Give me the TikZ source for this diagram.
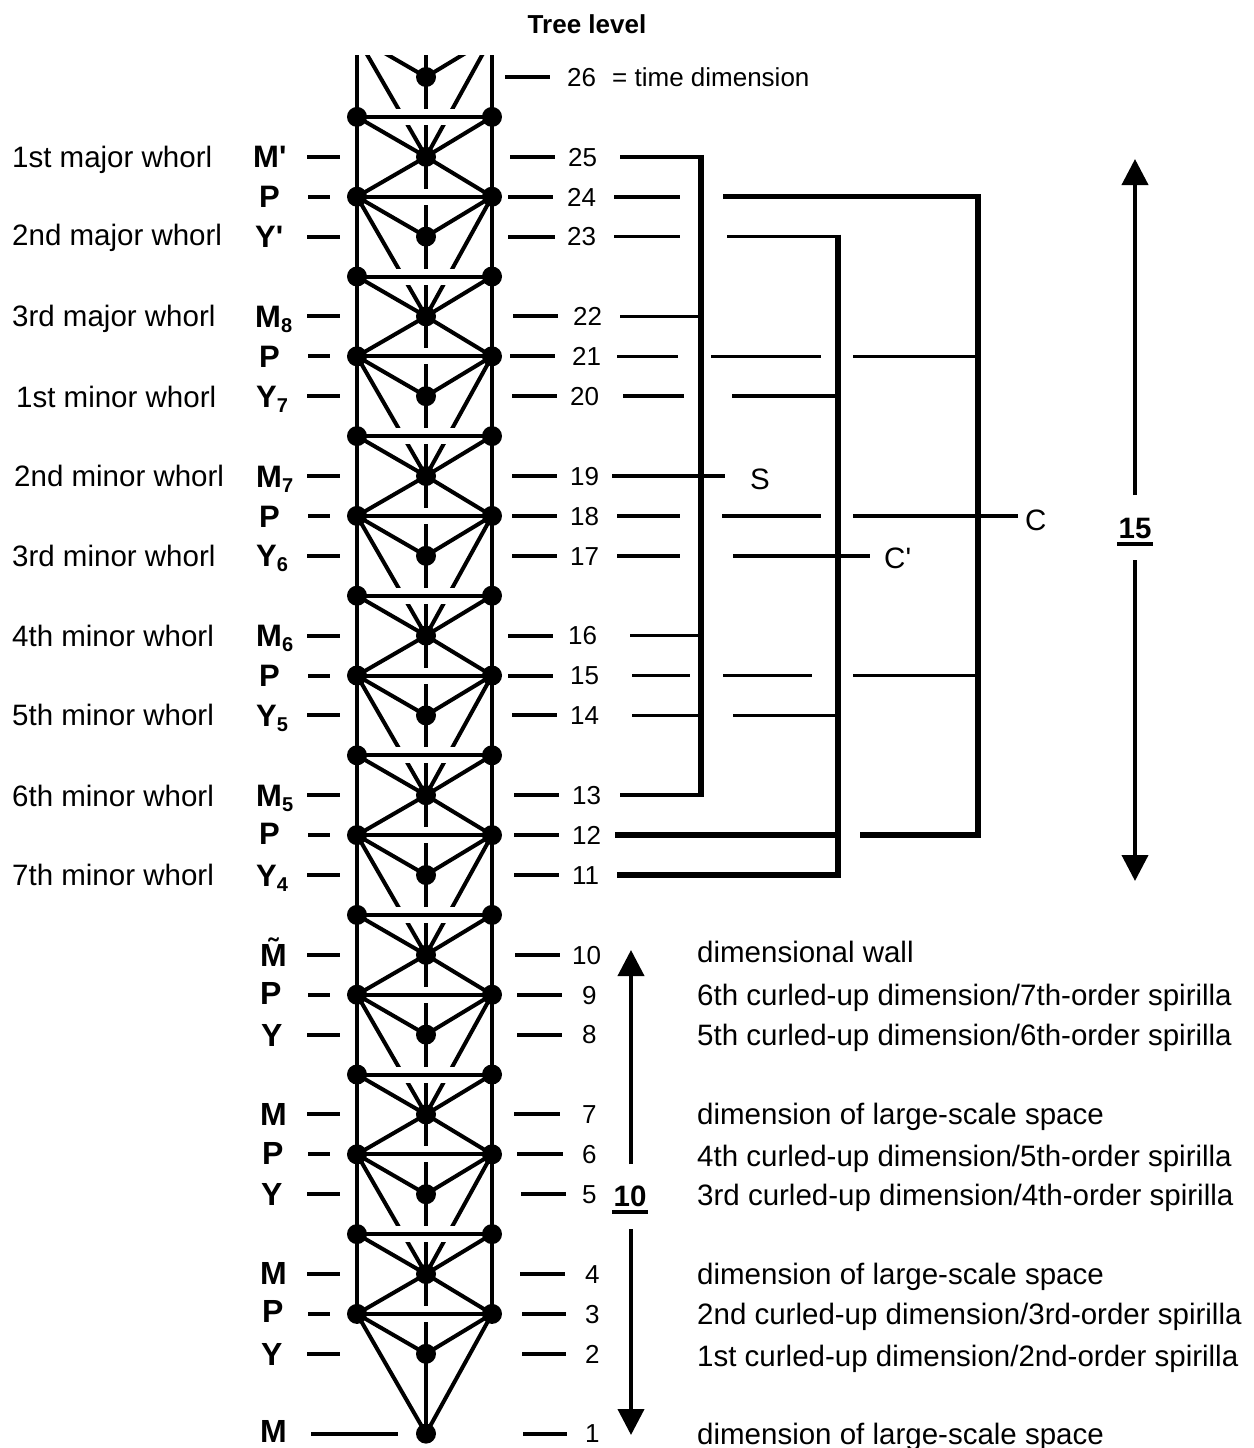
\documentclass[tikz,border=0pt]{standalone}
\usepackage{fontspec}
\setmainfont{Liberation Sans}[Ligatures=TeXOff]
\usetikzlibrary{arrows.meta}
\newcommand\sly[1]{(77+39.9*(#1))}
\newcommand\subn[1]{\raisebox{-5pt}{\fontsize{20}{20}\selectfont #1}}
\begin{document}
\begin{tikzpicture}[x=1pt,y=-1pt,
  tdot/.style={circle,fill=black,inner sep=0pt,minimum size=20pt},
  tree/.style={line width=4pt},
  dashln/.style={line width=4pt},
  arm/.style={line width=3.6pt},
  bigarm/.style={line width=6pt},
  brk/.style={line width=6.5pt},
  arr/.style={line width=4pt,-{Triangle[length=26pt,width=26pt]}},
  txt/.style={font=\fontsize{29.5}{34}\selectfont,inner sep=0pt,text height=21.1pt,text depth=0pt,anchor=west},
  numlab/.style={font=\fontsize{26}{30}\selectfont,inner sep=0pt,text height=18.6pt,text depth=0pt,anchor=west},
  bup/.style={font=\bfseries\fontsize{31}{35}\selectfont,inner sep=0pt,text height=22.2pt,text depth=0pt,anchor=west},
  blo/.style={font=\bfseries\fontsize{32}{36}\selectfont,inner sep=0pt,text height=22.9pt,text depth=0pt,anchor=west},
  bnum/.style={font=\bfseries\fontsize{29.5}{34}\selectfont,inner sep=0pt,text height=21.1pt,text depth=0pt},
]
\useasboundingbox (0,0) rectangle (1253,1448);

% ---------- tree coordinates ----------
\foreach \k in {1,3,...,31}{
  \coordinate (L\k) at (357,{\sly{\k}});
  \coordinate (R\k) at (492,{\sly{\k}});
}
\foreach \k in {0,2,...,34}{\coordinate (C\k) at (426,{\sly{\k}});}
\coordinate (Lp) at (357,{\sly{-1}});
\coordinate (Rp) at (492,{\sly{-1}});
\coordinate (Ltop) at (357,45);
\coordinate (Rtop) at (492,45);
\coordinate (Ctop) at (426,45);

\begin{scope}
\clip (300,55) rectangle (560,1448);
\draw[tree] (Ltop) -- (L31) (Rtop) -- (R31) (Ctop) -- (C34);
\draw[tree] (Lp) -- (C0) (Rp) -- (C0) (Lp) -- (C2) (Rp) -- (C2);
\foreach \b in {1,5,...,29}{
  \pgfmathtruncatemacro\ba{\b+1}
  \pgfmathtruncatemacro\bb{\b+2}
  \pgfmathtruncatemacro\bc{\b+3}
  \pgfmathtruncatemacro\be{\b+5}
  \draw[tree] (L\b) -- (C\ba) (R\b) -- (C\ba)
              (C\ba) -- (L\bb) (C\ba) -- (R\bb)
              (L\bb) -- (C\bc) (R\bb) -- (C\bc)
              (L\bb) -- (C\be) (R\bb) -- (C\be);
}
\foreach \k in {1,3,...,31}{
  \fill[white] (392,{\sly{\k}-8}) rectangle (460,{\sly{\k}+8});
  \draw[tree] (L\k) -- (R\k);
}
\foreach \k in {1,3,...,31}{
  \node[tdot] (dL\k) at (L\k) {};
  \node[tdot] (dR\k) at (R\k) {};
}
\foreach \k in {0,2,...,34}{\node[tdot] (dC\k) at (C\k) {};}
\end{scope}

% ---------- title ----------
\node[font=\bfseries\fontsize{26}{30}\selectfont,inner sep=0pt,text height=18.6pt,text depth=0pt] (title) at (587,24) {Tree level};

% ---------- left whorl texts ----------
\node[txt] (w2) at (12,{\sly{2}}) {1st major whorl};
\node[txt] (w4) at (12,{\sly{4}-2}) {2nd major whorl};
\node[txt] (w6) at (12,{\sly{6}}) {3rd major whorl};
\node[txt] (w8) at (16,{\sly{8}+1}) {1st minor whorl};
\node[txt] (w10) at (14,{\sly{10}}) {2nd minor whorl};
\node[txt] (w12) at (12,{\sly{12}}) {3rd minor whorl};
\node[txt] (w14) at (12,{\sly{14}}) {4th minor whorl};
\node[txt] (w16) at (12,{\sly{16}}) {5th minor whorl};
\node[txt] (w18) at (12,{\sly{18}+1}) {6th minor whorl};
\node[txt] (w20) at (12,{\sly{20}}) {7th minor whorl};

% ---------- bold level labels ----------
\node[bup] (b2) at (253,{\sly{2}}) {M'};
\node[bup] (b3) at (259,{\sly{3}}) {P};
\node[bup] (b4) at (255,{\sly{4}}) {Y'};
\node[bup] (b6) at (255,{\sly{6}}) {M\subn{8}};
\node[bup] (b7) at (259,{\sly{7}}) {P};
\node[bup] (b8) at (256,{\sly{8}}) {Y\subn{7}};
\node[bup] (b10) at (256,{\sly{10}}) {M\subn{7}};
\node[bup] (b11) at (259,{\sly{11}}) {P};
\node[bup] (b12) at (256,{\sly{12}}) {Y\subn{6}};
\node[bup] (b14) at (256,{\sly{14}}) {M\subn{6}};
\node[bup] (b15) at (259,{\sly{15}}) {P};
\node[bup] (b16) at (256,{\sly{16}}) {Y\subn{5}};
\node[bup] (b18) at (256,{\sly{18}}) {M\subn{5}};
\node[bup] (b19) at (259,{\sly{19}-2}) {P};
\node[bup] (b20) at (256,{\sly{20}}) {Y\subn{4}};
\node[blo] (b22) at (260,{\sly{22}}) {\~{M}};
\node[blo] (b23) at (260,{\sly{23}-2}) {P};
\node[blo] (b24) at (261,{\sly{24}}) {Y};
\node[blo] (b26) at (260,{\sly{26}}) {M};
\node[blo] (b27) at (262,{\sly{27}-1}) {P};
\node[blo] (b28) at (261,{\sly{28}}) {Y};
\node[blo] (b30) at (260,{\sly{30}-1}) {M};
\node[blo] (b31) at (262,{\sly{31}-3}) {P};
\node[blo] (b32) at (261,{\sly{32}}) {Y};
\node[blo] (b34) at (260,{\sly{34}-3}) {M};

\foreach \k in {2,4,...,32}{\draw[dashln] (307,{\sly{\k}}) -- (340,{\sly{\k}});}
\foreach \k in {3,7,...,31}{\draw[dashln] (308,{\sly{\k}}) -- (330,{\sly{\k}});}
\draw[dashln] (311,{\sly{34}}) -- (398,{\sly{34}});

% ---------- right numbers ----------
\foreach \n/\k/\tx/\da/\db in {26/0/567/505/550, 25/2/568/510/555, 24/3/567/508/553,
   23/4/567/508/555, 22/6/573/513/558, 21/7/572/510/555, 20/8/570/512/557,
   19/10/570/512/557, 18/11/570/512/557, 17/12/570/512/557, 16/14/568/508/553,
   15/15/570/508/553, 14/16/570/512/557, 13/18/572/514/559, 12/19/572/514/559,
   11/20/572/514/559, 10/22/572/515/560, 9/23/582/517/562, 8/24/582/517/562,
   7/26/582/514/560, 6/27/582/517/563, 5/28/582/521/566, 4/30/585/520/565,
   3/31/585/522/566, 2/32/585/522/566, 1/34/585/523/567}{
  \node[numlab] (n\n) at (\tx,{\sly{\k}}) {\n};
  \draw[dashln] (\da,{\sly{\k}}) -- (\db,{\sly{\k}});
}
\node[numlab] (timedim) at (612,{\sly{0}}) {= time dimension};

% ---------- right texts ----------
\node[txt] (r22) at (697,{\sly{22}-3}) {dimensional wall};
\node[txt] (r23) at (697,{\sly{23}}) {6th curled-up dimension/7th-order spirilla};
\node[txt] (r24) at (697,{\sly{24}}) {5th curled-up dimension/6th-order spirilla};
\node[txt] (r26) at (697,{\sly{26}}) {dimension of large-scale space};
\node[txt] (r27) at (697,{\sly{27}+2}) {4th curled-up dimension/5th-order spirilla};
\node[txt] (r28) at (697,{\sly{28}+1}) {3rd curled-up dimension/4th-order spirilla};
\node[txt] (r30) at (697,{\sly{30}}) {dimension of large-scale space};
\node[txt] (r31) at (697,{\sly{31}}) {2nd curled-up dimension/3rd-order spirilla};
\node[txt] (r32) at (697,{\sly{32}+2}) {1st curled-up dimension/2nd-order spirilla};
\node[txt] (r34) at (697,{\sly{34}}) {dimension of large-scale space};

% ---------- bracket S ----------
\coordinate (Stop) at (701,{\sly{2}-2});
\coordinate (Sbot) at (701,{\sly{18}+2});
\draw[brk] (Stop) -- (Sbot);
\foreach \k/\xa in {2/620, 6/620, 14/630, 16/632, 18/620}{\draw[arm] (\xa,{\sly{\k}}) -- (701,{\sly{\k}});}
\node[txt] (labS) at (750,{\sly{10}+3}) {S};
\draw[arm] (612,{\sly{10}}) -- (725,{\sly{10}});

% ---------- bracket C ----------
\coordinate (Ctp) at (978,{\sly{3}-2.5});
\coordinate (Cbt) at (978,{\sly{19}+3});
\draw[brk] (Ctp) -- (Cbt);
\draw[line width=5.5pt] (723,{\sly{3}}) -- (978,{\sly{3}});
\draw[arm] (853,{\sly{7}}) -- (978,{\sly{7}});
\node[txt] (labC) at (1025,{\sly{11}+4}) {C};
\draw[arm] (853,{\sly{11}}) -- (1018,{\sly{11}});
\draw[arm] (853,{\sly{15}}) -- (978,{\sly{15}});
\draw[bigarm] (860,{\sly{19}}) -- (978,{\sly{19}});

% ---------- bracket C' ----------
\coordinate (Cptop) at (838,{\sly{4}-2});
\coordinate (Cpbot) at (838,{\sly{20}+3});
\draw[brk] (Cptop) -- (Cpbot);
\draw[arm] (727,{\sly{4}}) -- (838,{\sly{4}});
\draw[arm] (732,{\sly{8}}) -- (838,{\sly{8}});
\node[txt] (labCp) at (884,{\sly{12}+2}) {C'};
\draw[arm] (733,{\sly{12}}) -- (870,{\sly{12}});
\draw[arm] (733,{\sly{16}}) -- (838,{\sly{16}});
\draw[bigarm] (615,{\sly{19}}) -- (838,{\sly{19}});
\draw[bigarm] (617,{\sly{20}}) -- (838,{\sly{20}});

% ---------- loose dashes ----------
\foreach \k/\xa/\xb in {3/614/680, 4/614/680, 7/617/678, 7/711/821, 8/623/684,
   11/617/680, 11/722/821, 12/617/680, 15/632/690, 15/723/812}{
  \draw[arm] (\xa,{\sly{\k}}) -- (\xb,{\sly{\k}});
}

% ---------- arrows ----------
\node[bnum] (lab15) at (1135,528) {15};
\draw[line width=4pt] ([xshift=-1pt,yshift=-5pt]lab15.south west) -- ([xshift=1pt,yshift=-5pt]lab15.south east);
\coordinate (u15) at (1135,159);
\coordinate (d15) at (1135,881);
\draw[arr] (1135,495) -- (u15);
\draw[arr] (1135,560) -- (d15);

\node[bnum] (lab10) at (630,1196) {10};
\draw[line width=4pt] ([xshift=-1pt,yshift=-5pt]lab10.south west) -- ([xshift=1pt,yshift=-5pt]lab10.south east);
\coordinate (u10) at (631,950);
\coordinate (d10) at (631,1435);
\draw[arr] (631,1164) -- (u10);
\draw[arr] (631,1229) -- (d10);
\end{tikzpicture}
\end{document}
